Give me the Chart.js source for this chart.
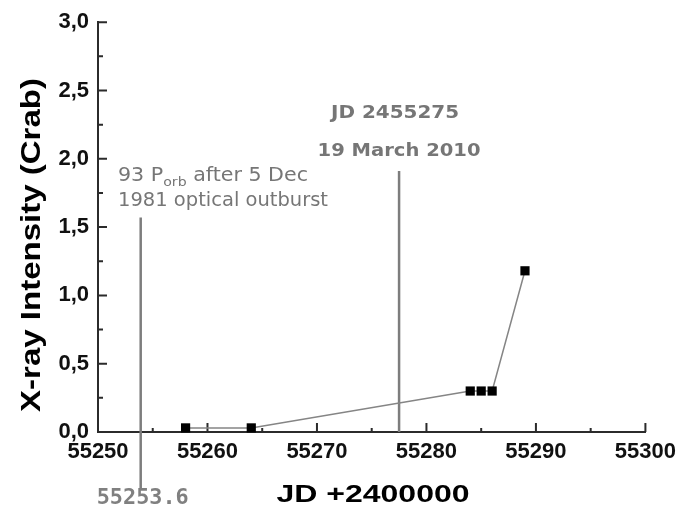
<!DOCTYPE html>
<html>
<head>
<meta charset="utf-8">
<script src="https://cdn.jsdelivr.net/npm/chart.js@4"></script>
<style>
  html, body { margin: 0; padding: 0; background: #fff; }
  canvas { display: block; }
</style>
</head>
<body>
<canvas id="chart" width="683" height="511"></canvas>
<script>
// X-ray light curve, JD +2400000 vs intensity in Crab units
const jd = [55258, 55264, 55284, 55285, 55286, 55289];
const intensity = [0.03, 0.03, 0.30, 0.30, 0.30, 1.18];

const xTicks = [55250, 55260, 55270, 55280, 55290, 55300];
const yTicks = [0, 0.5, 1.0, 1.5, 2.0, 2.5, 3.0];

// marker lines (x position, y from / to)
const outburstJD = 55253.9;
const outburstSpan = [1.57, -0.41];
const marchJD = 55277.5;
const marchSpan = [1.91, 0];

const axisColor = '#2b2b2b';
const noteColor = '#767676';

// draws text squeezed/stretched to a given width
function fitText(ctx, text, x, y, width, align) {
  const w = ctx.measureText(text).width;
  ctx.save();
  ctx.translate(x, y);
  ctx.scale(width / w, 1);
  ctx.textAlign = align;
  ctx.fillText(text, 0, 0);
  ctx.restore();
}

const tickMarks = {
  id: 'tickMarks',
  beforeDatasetsDraw(chart) {
    const { ctx, scales: { x, y } } = chart;
    ctx.save();
    ctx.strokeStyle = axisColor;
    ctx.lineWidth = 2;
    ctx.beginPath();
    for (let v = xTicks[0]; v <= xTicks[xTicks.length - 1]; v += 5) {
      const px = x.getPixelForValue(v);
      const len = (v % 10 === 0) ? 9 : 4;
      ctx.moveTo(px, y.bottom);
      ctx.lineTo(px, y.bottom - len);
    }
    for (let i = 0; i <= 12; i++) {
      const py = y.getPixelForValue(i * 0.25);
      const len = (i % 2 === 0) ? 9 : 5;
      ctx.moveTo(x.left, py);
      ctx.lineTo(x.left + len, py);
    }
    ctx.stroke();
    ctx.restore();
  }
};

const notes = {
  id: 'notes',
  afterDraw(chart) {
    const { ctx, scales: { x } } = chart;
    ctx.save();
    ctx.textBaseline = 'alphabetic';

    // axis titles
    ctx.fillStyle = '#000';
    ctx.font = 'bold 24px "Liberation Sans", Arial, sans-serif';
    fitText(ctx, 'JD +2400000', 373, 502, 193, 'center');

    ctx.save();
    ctx.translate(40, 245);
    ctx.rotate(-Math.PI / 2);
    ctx.font = 'bold 28px "Liberation Sans", Arial, sans-serif';
    fitText(ctx, 'X-ray Intensity (Crab)', 0, 0, 334, 'center');
    ctx.restore();

    // annotation of the March 2010 line
    ctx.fillStyle = noteColor;
    ctx.font = 'bold 18px "DejaVu Sans", sans-serif';
    const mx = x.getPixelForValue(marchJD);
    fitText(ctx, 'JD 2455275', mx - 4, 118, 128, 'center');
    fitText(ctx, '19 March 2010', mx, 156, 163, 'center');

    // annotation of the outburst line
    const parts = [
      ['93 P', '19px "DejaVu Sans", sans-serif', 0],
      ['orb', '13px "DejaVu Sans", sans-serif', 5],
      [' after 5 Dec', '19px "DejaVu Sans", sans-serif', 0]
    ];
    let total = 0;
    parts.forEach(p => { ctx.font = p[1]; total += ctx.measureText(p[0]).width; });
    const sx = 190 / total;
    ctx.save();
    ctx.translate(118, 181);
    ctx.scale(sx, 1);
    ctx.textAlign = 'left';
    let cx = 0;
    parts.forEach(p => {
      ctx.font = p[1];
      ctx.fillText(p[0], cx, p[2]);
      cx += ctx.measureText(p[0]).width;
    });
    ctx.restore();
    ctx.font = '19px "DejaVu Sans", sans-serif';
    fitText(ctx, '1981 optical outburst', 118, 206, 210, 'left');

    ctx.fillStyle = '#808080';
    ctx.font = 'bold 21px "DejaVu Sans Mono", monospace';
    fitText(ctx, '55253.6', x.getPixelForValue(outburstJD) + 2, 504, 92, 'center');
    ctx.restore();
  }
};

new Chart(document.getElementById('chart'), {
  type: 'line',
  data: {
    datasets: [
      {
        data: jd.map((v, i) => ({ x: v, y: intensity[i] })),
        borderColor: '#858585',
        borderWidth: 1.5,
        pointStyle: 'rect',
        pointRadius: 6.5,
        pointBackgroundColor: '#000',
        pointBorderWidth: 0,
        clip: false
      },
      {
        data: outburstSpan.map(v => ({ x: outburstJD, y: v })),
        borderColor: '#7d7d7d',
        borderWidth: 2.5,
        pointRadius: 0,
        clip: false
      },
      {
        data: marchSpan.map(v => ({ x: marchJD, y: v })),
        borderColor: '#7d7d7d',
        borderWidth: 2.5,
        pointRadius: 0,
        clip: false
      }
    ]
  },
  options: {
    responsive: false,
    animation: false,
    layout: { padding: { top: 22, right: 31, left: 0, bottom: 0 } },
    plugins: { legend: { display: false }, tooltip: { enabled: false } },
    scales: {
      x: {
        type: 'linear',
        min: 55250,
        max: 55300,
        afterBuildTicks: s => { s.ticks = xTicks.map(v => ({ value: v })); },
        afterFit: s => { s.height = 79; },
        grid: { display: false, drawTicks: false },
        border: { color: axisColor, width: 2 },
        ticks: {
          padding: 7,
          maxRotation: 0,
          color: '#111',
          font: { family: '"Liberation Sans", Arial, sans-serif', size: 22, weight: 'bold' },
          callback: v => String(v)
        }
      },
      y: {
        min: 0,
        max: 3,
        afterBuildTicks: s => { s.ticks = yTicks.map(v => ({ value: v })); },
        afterFit: s => { s.width = 98; },
        grid: { display: false, drawTicks: false },
        border: { color: axisColor, width: 2 },
        ticks: {
          padding: 9,
          color: '#111',
          font: { family: '"Liberation Sans", Arial, sans-serif', size: 22, weight: 'bold' },
          callback: v => v.toFixed(1).replace('.', ',')
        }
      }
    }
  },
  plugins: [tickMarks, notes]
});
</script>
</body>
</html>
